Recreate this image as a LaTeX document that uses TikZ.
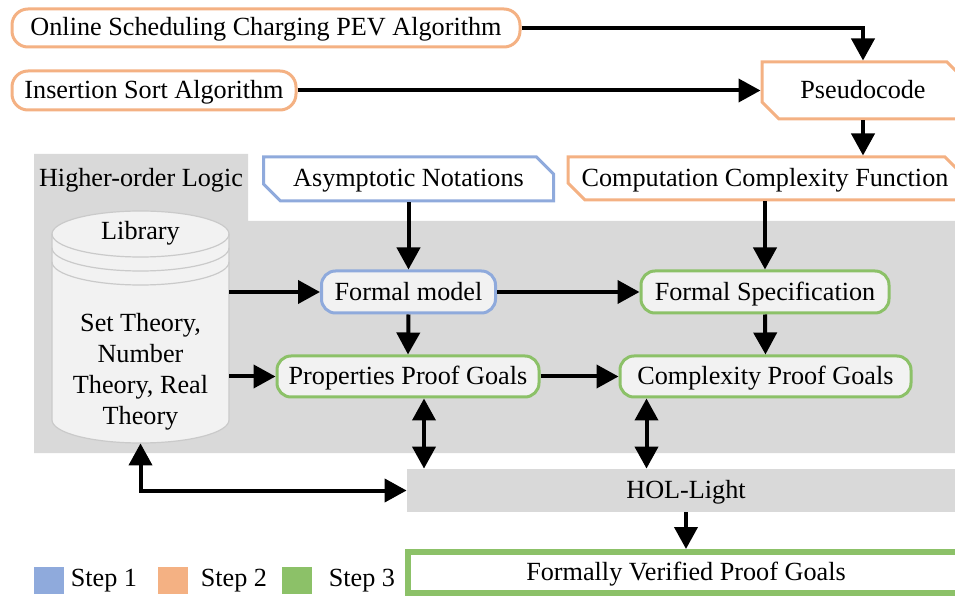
\documentclass[tikz,border=0pt]{standalone}
\usepackage{fontspec}
\setmainfont{Liberation Serif}
\usetikzlibrary{positioning,arrows.meta,shapes.misc}
\definecolor{stepone}{HTML}{8FAADC}
\definecolor{steptwo}{HTML}{F4B183}
\definecolor{stepthree}{HTML}{8CC168}
\definecolor{holgray}{HTML}{D9D9D9}
\definecolor{boxfill}{HTML}{F2F2F2}
\definecolor{cylline}{HTML}{CACACA}
\tikzset{
  midtext/.style={text height=0.95em, text depth=0.15em},
  pill/.style={draw, rounded corners=8pt, line width=1.5pt, inner sep=0pt, midtext},
  chbox/.style={chamfered rectangle, chamfered rectangle corners={north east,south west},
                chamfered rectangle xsep=6.5pt, draw, line width=1.5pt, fill=white, inner sep=0pt, midtext},
  flow/.style={-{Triangle[length=11pt,width=11.5pt]}, line width=2pt},
  flowboth/.style={{Triangle[length=11pt,width=11.5pt]}-{Triangle[length=11pt,width=11.5pt]},
                   line width=2pt},
  legbox/.style={fill=#1, minimum width=15pt, minimum height=13.5pt, inner sep=0pt},
  legtext/.style={inner sep=0pt},
}

\begin{document}
\begin{tikzpicture}[x=0.5pt,y=-0.5pt,font=\fontsize{13.1}{15.5}\selectfont]
  \clip (0,0) rectangle (955,599);
  % gri HOL alani
  \fill[holgray] (34,154) -- (248,154) -- (248,221) -- (970,221) -- (970,453) -- (34,453) -- cycle;
  \node[midtext] (hol-title) at (141,179) {Higher-order Logic};
  % kutuphane silindiri
  \node[minimum width=88.5pt, minimum height=116pt, inner sep=0pt] (lib) at (140.5,327) {};
  \filldraw[fill=boxfill, draw=cylline, line width=0.6pt]
    (52,234) -- (52,420) arc[start angle=180, end angle=360, x radius=44.25pt, y radius=11.5pt]
    -- (229,234) arc[start angle=0, end angle=180, x radius=44.25pt, y radius=11.5pt] -- cycle;
  \foreach \ry in {234,248,262}{
    \draw[cylline, line width=0.6pt] (52,\ry) arc[start angle=180, end angle=360, x radius=44.25pt, y radius=11.5pt];
  }
  \node[midtext] (lib-name) at (140.5,232) {Library};
  \node[align=center] (lib-body) at (140.5,372) {Set Theory,\\ Number\\ Theory, Real\\ Theory};
  % girdiler (step 2)
  \node[pill, draw=steptwo, fill=white, minimum width=254pt, minimum height=19pt] (online) at (266,28)
    {Online Scheduling Charging PEV Algorithm};
  \node[pill, draw=steptwo, fill=white, minimum width=142pt, minimum height=19.5pt] (insert) at (154,90.5)
    {Insertion Sort Algorithm};
  \node[chbox, draw=steptwo, minimum width=101pt, minimum height=28.5pt] (pseudo) at (863,90.5) {Pseudocode};
  \node[chbox, draw=stepone, minimum width=145pt, minimum height=22pt] (asym) at (408.5,179) {Asymptotic Notations};
  \node[chbox, draw=steptwo, minimum width=197pt, minimum height=21.5pt] (ccf) at (765,178.5)
    {Computation Complexity Function};
  % formel adimlar
  \node[pill, draw=stepone, fill=boxfill, rounded corners=7pt, minimum width=87pt, minimum height=21pt] (fmodel)
    at (408.5,292) {Formal model};
  \node[pill, draw=stepthree, fill=boxfill, rounded corners=7pt, minimum width=124pt, minimum height=21pt] (fspec)
    at (765,292) {Formal Specification};
  \node[pill, draw=stepthree, fill=boxfill, rounded corners=7pt, minimum width=131pt, minimum height=20.5pt] (ppg)
    at (408,376.5) {Properties Proof Goals};
  \node[pill, draw=stepthree, fill=boxfill, rounded corners=7pt, minimum width=145.5pt, minimum height=20.5pt] (cpg)
    at (765.5,376.5) {Complexity Proof Goals};
  \node[midtext, fill=holgray, minimum width=279pt, minimum height=21.5pt] (hol) at (686,490.5) {HOL-Light};
  \node[midtext, draw=stepthree, line width=3pt, fill=white, minimum width=278pt, minimum height=20.5pt] (verified)
    at (686,572.5) {Formally Verified Proof Goals};
  % oklar
  \draw[flow] (online.east) -| (pseudo.north);
  \draw[flow] (insert.east) -- (pseudo.west);
  \draw[flow] (pseudo.south) -- (pseudo.south |- ccf.north);
  \draw[flow] (asym.south) -- (fmodel.north);
  \draw[flow] (ccf.south) -- (fspec.north);
  \draw[flow] (lib.east |- fmodel.west) -- (fmodel.west);
  \draw[flow] (fmodel.east) -- (fspec.west);
  \draw[flow] (fmodel.south) -- (ppg.north);
  \draw[flow] (fspec.south) -- (cpg.north);
  \draw[flow] (lib.east |- ppg.west) -- (ppg.west);
  \draw[flow] (ppg.east) -- (cpg.west);
  \draw[flowboth] ([xshift=8pt]ppg.south) -- ([xshift=8pt]ppg.south |- hol.north);
  \draw[flowboth] ([xshift=14pt]cpg.south west) -- ([xshift=14pt]cpg.south west |- hol.north);
  \draw[flowboth] (lib.south) |- (hol.west);
  \draw[flow] (hol.south) -- (verified.north);
  % lejant
  \node[legbox=stepone] (leg1) at (49,580.5) {};
  \node[legtext, right=3pt of leg1] (leg1-text) {Step 1};
  \node[legbox=steptwo] (leg2) at (173,580.5) {};
  \node[legtext, right=6pt of leg2] (leg2-text) {Step 2};
  \node[legbox=stepthree] (leg3) at (297,580.5) {};
  \node[legtext, right=8pt of leg3] (leg3-text) {Step 3};
\end{tikzpicture}
\end{document}
